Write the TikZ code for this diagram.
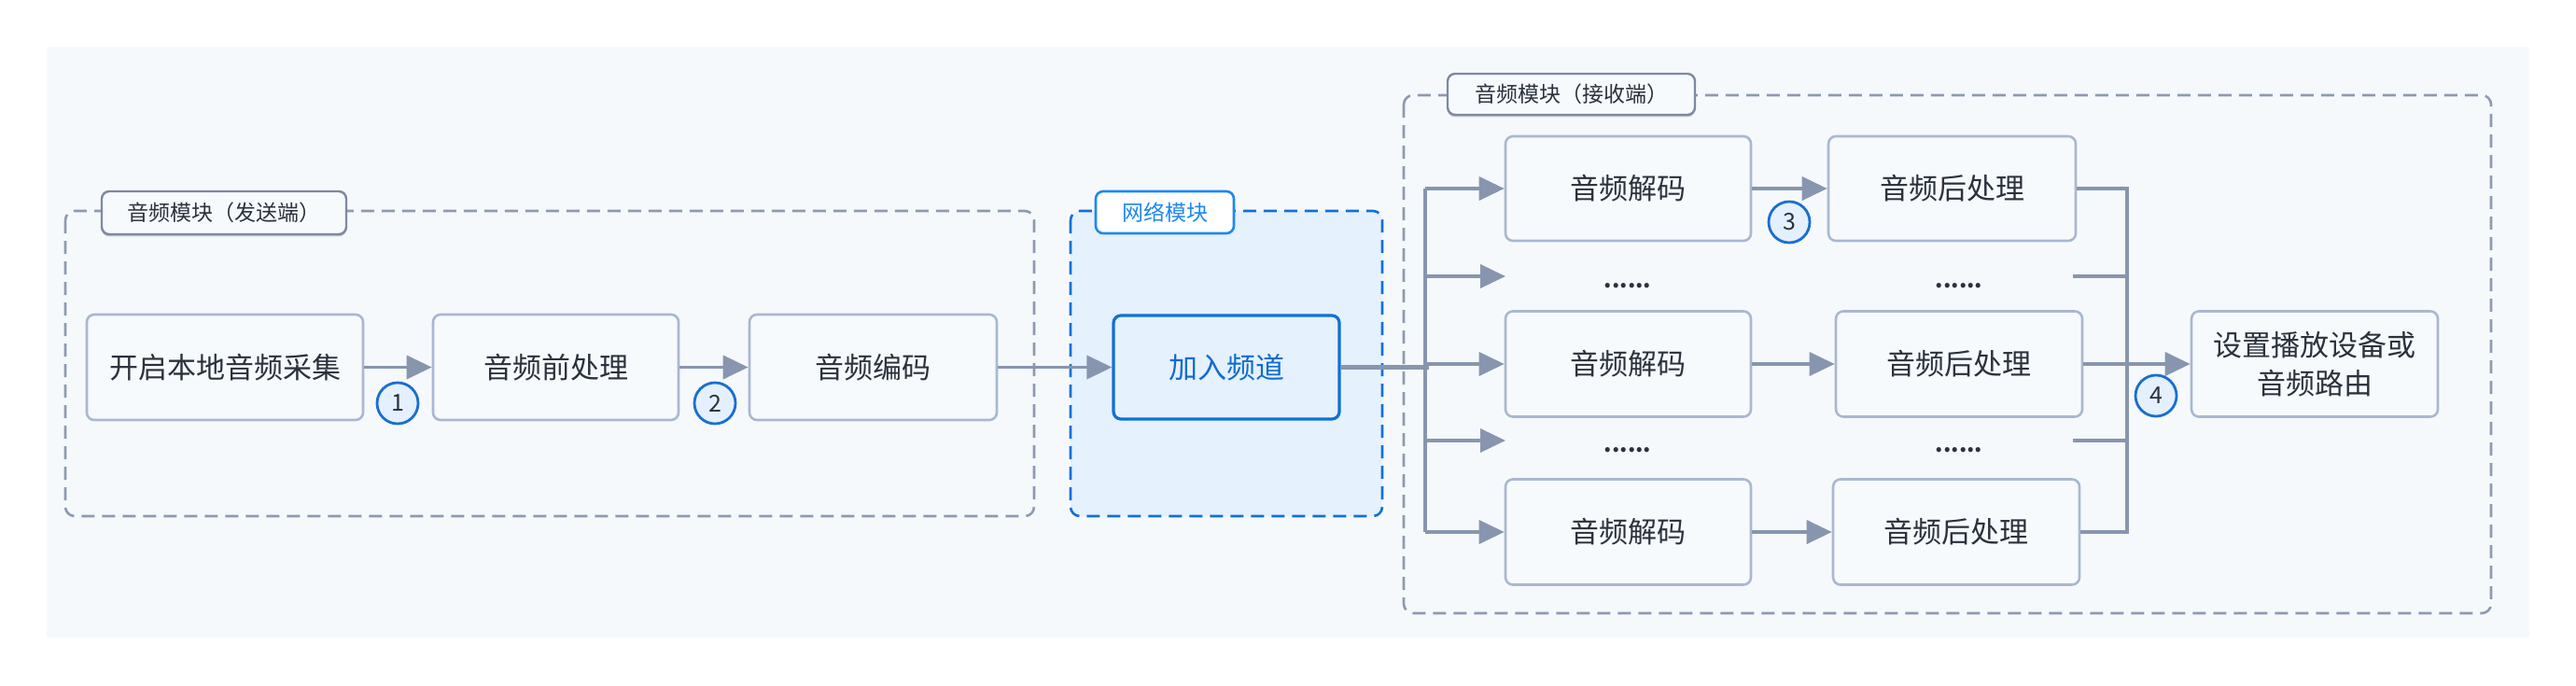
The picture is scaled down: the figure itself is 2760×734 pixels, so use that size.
\documentclass[tikz,border=0pt]{standalone}
\usepackage{fontspec}
\setmainfont{Noto Sans CJK SC}
\usetikzlibrary{arrows.meta,shadows}
\definecolor{panel}{HTML}{F6F9FC}
\definecolor{boxfill}{HTML}{F7FAFD}
\definecolor{boxline}{HTML}{A9B8D0}
\definecolor{arrowc}{HTML}{8796AE}
\definecolor{grpline}{HTML}{8D9AB0}
\definecolor{lblline}{HTML}{7D89A0}
\definecolor{txt}{HTML}{2B323D}
\definecolor{blueline}{HTML}{1170D8}
\definecolor{bluetxt}{HTML}{1E88F0}
\definecolor{bluetxtd}{HTML}{0F6CD0}
\definecolor{netfill}{HTML}{E5F1FD}
\definecolor{numfill}{HTML}{E4F0FD}
\definecolor{numline}{HTML}{1A6FCF}
\tikzset{
  x=0.5pt, y=-0.5pt,
  stepbox/.style={draw=boxline, fill=boxfill, line width=1.3pt, rounded corners=4pt,
    text=txt, font=\fontsize{15.5pt}{20.5pt}\selectfont, align=center, inner sep=0pt},
  joinbox/.style={draw=blueline, fill=netfill, line width=1.6pt, rounded corners=4pt,
    text=bluetxtd, font=\fontsize{15.5pt}{20.5pt}\selectfont, inner sep=0pt},
  grp/.style={draw=grpline, line width=1.3pt, dash pattern=on 7pt off 4pt, rounded corners=5pt},
  lbl/.style={draw=lblline, fill=boxfill, line width=1.2pt, rounded corners=4pt, text=txt,
    font=\fontsize{11.5pt}{14pt}\selectfont, inner sep=0pt,
    drop shadow={shadow xshift=0pt, shadow yshift=-1.2pt, fill=lblline, opacity=0.45}},
  bluelbl/.style={draw=bluetxt, fill=white, line width=1.3pt, rounded corners=4pt, text=bluetxt,
    font=\fontsize{11.5pt}{14pt}\selectfont, inner sep=0pt},
  num/.style={circle, draw=numline, fill=numfill, line width=1.4pt, minimum size=22pt,
    inner sep=0pt, text=txt, font=\fontsize{12.5pt}{14pt}\selectfont},
  conn/.style={draw=arrowc, line width=1.8pt},
  arr/.style={conn, -{Triangle[length=13.5pt, width=12.5pt]}},
  dotsnode/.style={text=txt, font=\fontsize{12pt}{14pt}\selectfont\bfseries, inner sep=0pt, anchor=base},
}
\begin{document}
\begin{tikzpicture}
\useasboundingbox (0,0) rectangle (2760,734);
\fill[white] (0,0) rectangle (2760,734);
\fill[panel] (50,50) rectangle (2710,683);

% groups
\draw[grp] (70,226) rectangle (1108,553);
\filldraw[grp, draw=blueline, fill=netfill] (1147,226) rectangle (1481,553);
\draw[grp] (1504,102) rectangle (2669,657);

\node[lbl, minimum width=131pt, minimum height=23pt] (lblsend) at (240,228) {音频模块（发送端）};
\node[bluelbl, minimum width=74pt, minimum height=22.5pt] (lblnet) at (1248,227.5) {网络模块};
\node[lbl, minimum width=132.5pt, minimum height=22pt] (lblrecv) at (1683.5,101) {音频模块（接收端）};

% sender
\node[stepbox, minimum width=148pt, minimum height=56.5pt] (n1) at (241,393.5) {开启本地音频采集};
\node[stepbox, minimum width=131.5pt, minimum height=56.5pt] (n2) at (595.5,393.5) {音频前处理};
\node[stepbox, minimum width=132.5pt, minimum height=56.5pt] (n3) at (935.5,393.5) {音频编码};
\node[joinbox, minimum width=121pt, minimum height=55.5pt] (join) at (1314,393.5) {加入频道};

% receiver
\node[stepbox, minimum width=131.5pt, minimum height=56pt] (d1) at (1744.5,202) {音频解码};
\node[stepbox, minimum width=132.5pt, minimum height=56pt] (p1) at (2091.5,202) {音频后处理};
\node[stepbox, minimum width=131.5pt, minimum height=56.5pt] (d2) at (1744.5,390) {音频解码};
\node[stepbox, minimum width=132pt, minimum height=56.5pt] (p2) at (2099,390) {音频后处理};
\node[stepbox, minimum width=131.5pt, minimum height=56.5pt] (d3) at (1744.5,570) {音频解码};
\node[stepbox, minimum width=132pt, minimum height=56.5pt] (p3) at (2096,570) {音频后处理};
\node[stepbox, minimum width=132pt, minimum height=56.5pt] (fin) at (2480,390) {设置播放设备或\\音频路由};

\node[dotsnode] (dt1) at (1744,308) {......};
\node[dotsnode] (dt2) at (2099,308) {......};
\node[dotsnode] (dt3) at (1744,484) {......};
\node[dotsnode] (dt4) at (2099,484) {......};

% sender arrows
\draw[arr] (n1.east) -- (n2.west);
\draw[arr] (n2.east) -- (n3.west);
\draw[arr] (n3.east) -- (join.west);

% fan-out
\coordinate (bus) at (1527,393.5);
\coordinate (busT) at (1527,202);
\coordinate (busB) at (1527,570);
\coordinate (g1) at (1613,296);
\coordinate (g2) at (1613,472);
\draw[conn, line width=2.6pt] (join.east) -- ([xshift=2pt]bus);
\draw[conn] (busT) -- (busB);
\draw[arr] (busT) -- (d1.west);
\draw[arr] (busT |- g1) -- (g1);
\draw[arr] (busT |- d2.west) -- (d2.west);
\draw[arr] (busT |- g2) -- (g2);
\draw[arr] (busB) -- (d3.west);

\draw[arr] (d1.east) -- (p1.west);
\draw[arr] (d2.east) -- (p2.west);
\draw[arr] (d3.east) -- (p3.west);

% fan-in
\coordinate (mT) at (2279,202);
\coordinate (mB) at (2279,570);
\coordinate (h1) at (2221,296);
\coordinate (h2) at (2221,472);
\draw[conn] (p1.east) -- (mT) -- (mB) -- (p3.east);
\draw[conn] (h1) -- (mT |- h1);
\draw[conn] (h2) -- (mT |- h2);
\draw[arr] (p2.east) -- (fin.west);

% step numbers
\node[num] (c1) at (426,432) {1};
\node[num] (c2) at (766,432) {2};
\node[num] (c3) at (1917,238) {3};
\node[num] (c4) at (2310,424) {4};
\end{tikzpicture}
\end{document}
